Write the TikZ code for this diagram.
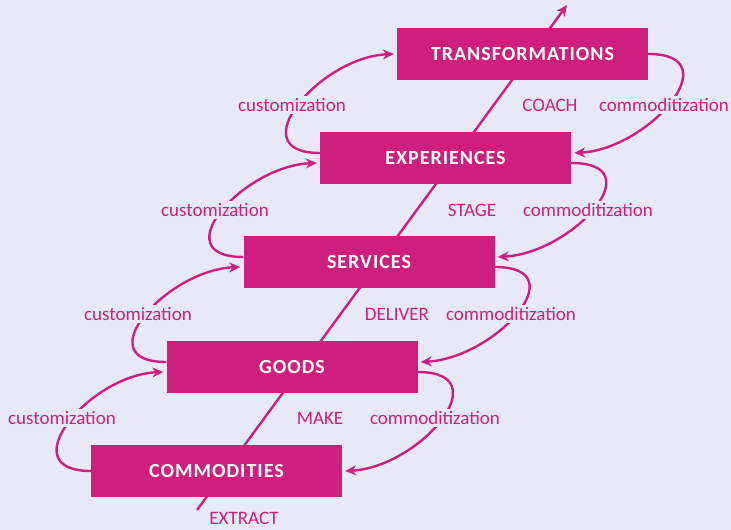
\documentclass[tikz,border=0pt]{standalone}
\usepackage{fontspec}
\setmainfont{Carlito}
\newfontfamily\boxfont[LetterSpace=5]{Carlito}
\usetikzlibrary{arrows.meta}
\definecolor{pagebg}{HTML}{E8E9F7}
\definecolor{econmag}{HTML}{CE1F7F}
\tikzset{
    stagebox/.style={fill=econmag, text=white, minimum width=251pt, minimum height=52pt,
        inner sep=0pt, font=\boxfont\bfseries\fontsize{20}{24}\selectfont},
    steplabel/.style={text=econmag, inner sep=2pt, font=\fontsize{19}{22}\selectfont},
    cyclelabel/.style={steplabel, fill=pagebg},
    cyclearrow/.style={econmag, line width=2.4pt, -{Stealth[length=11pt,width=10pt]}}
}
\begin{document}
\begin{tikzpicture}[x=1pt, y=1pt]
    \fill[pagebg] (0, 0) rectangle (731, 530);
    \useasboundingbox (0, 0) rectangle (731, 530);

    % Progression line
    \coordinate (base) at (197, 20);
    \coordinate (top) at (567, 525);
    \draw[cyclearrow] (base) -- (top);

    % Economic offerings
    \foreach \n/\x/\y/\t in {c/216.5/59/COMMODITIES, g/292/163/GOODS, s/369/268/SERVICES,
                             e/445.5/372/EXPERIENCES, t/522.5/476/TRANSFORMATIONS} {
        \node[stagebox] (\n) at (\x, \y) {\t};
    }

    % Customization and commoditization loops
    \foreach \a/\b/\ya/\yb in {c/g/0/-5, g/s/5/-5, s/e/5/-5, e/t/5/0} {
        \draw[cyclearrow] ([yshift=\ya pt]\a.west) .. controls +(-81, 0) and +(-74, -3) .. ([xshift=-3pt, yshift=\yb pt]\b.west);
        \draw[cyclearrow] ([yshift=\yb pt]\b.east) .. controls +(83, 0) and +(75, 4) .. ([xshift=3pt, yshift=\ya pt]\a.east);
    }

    % Labels
    \foreach \i/\x/\y/\w in {1/244/12/EXTRACT, 2/320/112/MAKE, 3/397/216/DELIVER, 4/472/320/STAGE, 5/550/425/COACH} {
        \node[steplabel] (step\i) at (\x, \y) {\w};
    }
    \foreach \i/\x/\y in {1/62/112, 2/138/216, 3/215/320, 4/292/425} {
        \node[cyclelabel] (cust\i) at (\x, \y) {customization};
    }
    \foreach \i/\x/\y in {1/435/112, 2/511/216, 3/588/320, 4/664/425} {
        \node[cyclelabel] (comm\i) at (\x, \y) {commoditization};
    }
\end{tikzpicture}
\end{document}
